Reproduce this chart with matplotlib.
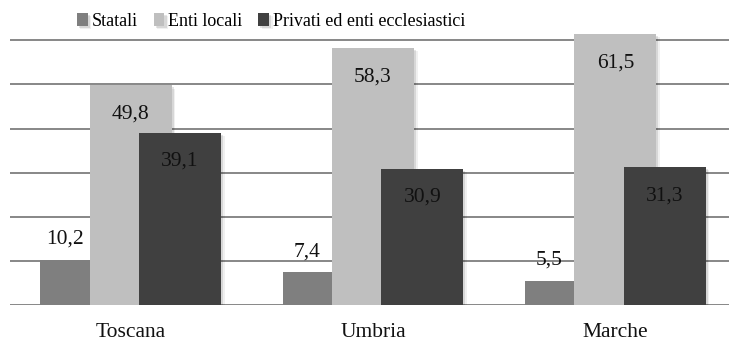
import numpy as np
import matplotlib
matplotlib.use("Agg")
import matplotlib.pyplot as plt
import matplotlib.patheffects as pe

plt.rcParams["font.family"] = ["Liberation Serif", "DejaVu Serif"]

regions = ["Toscana", "Umbria", "Marche"]
series = ["Statali", "Enti locali", "Privati ed enti ecclesiastici"]
statali = [10.2, 7.4, 5.5]
enti_locali = [49.8, 58.3, 61.5]
privati = [39.1, 30.9, 31.3]
colors = ["#7f7f7f", "#bfbfbf", "#404040"]

W, H = 729, 341
fig = plt.figure(figsize=(W / 100, H / 100), dpi=100)
ax = fig.add_axes([9.5 / W, 36 / H, 727 / W, 286.7 / H])

x = np.arange(len(regions))
step = 0.2035
width = 0.339

shadow = [pe.SimplePatchShadow(offset=(2.5, -2.5), shadow_rgbFace="black", alpha=0.06),
          pe.SimplePatchShadow(offset=(1.5, -1.5), shadow_rgbFace="black", alpha=0.10),
          pe.Normal()]

ax.set_ylim(0, 65)
ax.set_xlim(-0.5, 2.5)
for v in range(0, 61, 10):
    ax.axhline(v, color="#878787", lw=1.4, zorder=1)

values = [statali, enti_locali, privati]
for i, (vals, col, name) in enumerate(zip(values, colors, series)):
    bars = ax.bar(x + (i - 1) * step, vals, width, color=col, label=name,
                  zorder=2 + i, linewidth=0)
    for b in bars:
        b.set_path_effects(shadow)
    for xi, v in zip(x, vals):
        if i == 0:
            lx = xi - step - width / 2 + step / 2
            ax.annotate(f"{v:.1f}".replace(".", ","), (lx, v), xytext=(0, 11.5),
                        textcoords="offset points", ha="center", va="baseline",
                        fontsize=15.5, color="#111111", zorder=10)
        else:
            ax.annotate(f"{v:.1f}".replace(".", ","), (xi + (i - 1) * step, v),
                        xytext=(0, -24), textcoords="offset points", ha="center",
                        va="baseline", fontsize=15.5, color="#111111", zorder=10)

ax.set_xticks(x)
ax.set_xticklabels(regions, fontsize=15.5, color="#111111")
ax.tick_params(axis="x", length=0, pad=13)
ax.set_yticks([])
for s in ax.spines.values():
    s.set_visible(False)

fig.legend(loc="upper center", bbox_to_anchor=(271 / W, 1.0), ncol=3, frameon=False,
           fontsize=13, handlelength=0.6, handleheight=0.75, handletextpad=0.2,
           columnspacing=0.9, borderaxespad=0.3)

fig.savefig("out.png", dpi=100)
